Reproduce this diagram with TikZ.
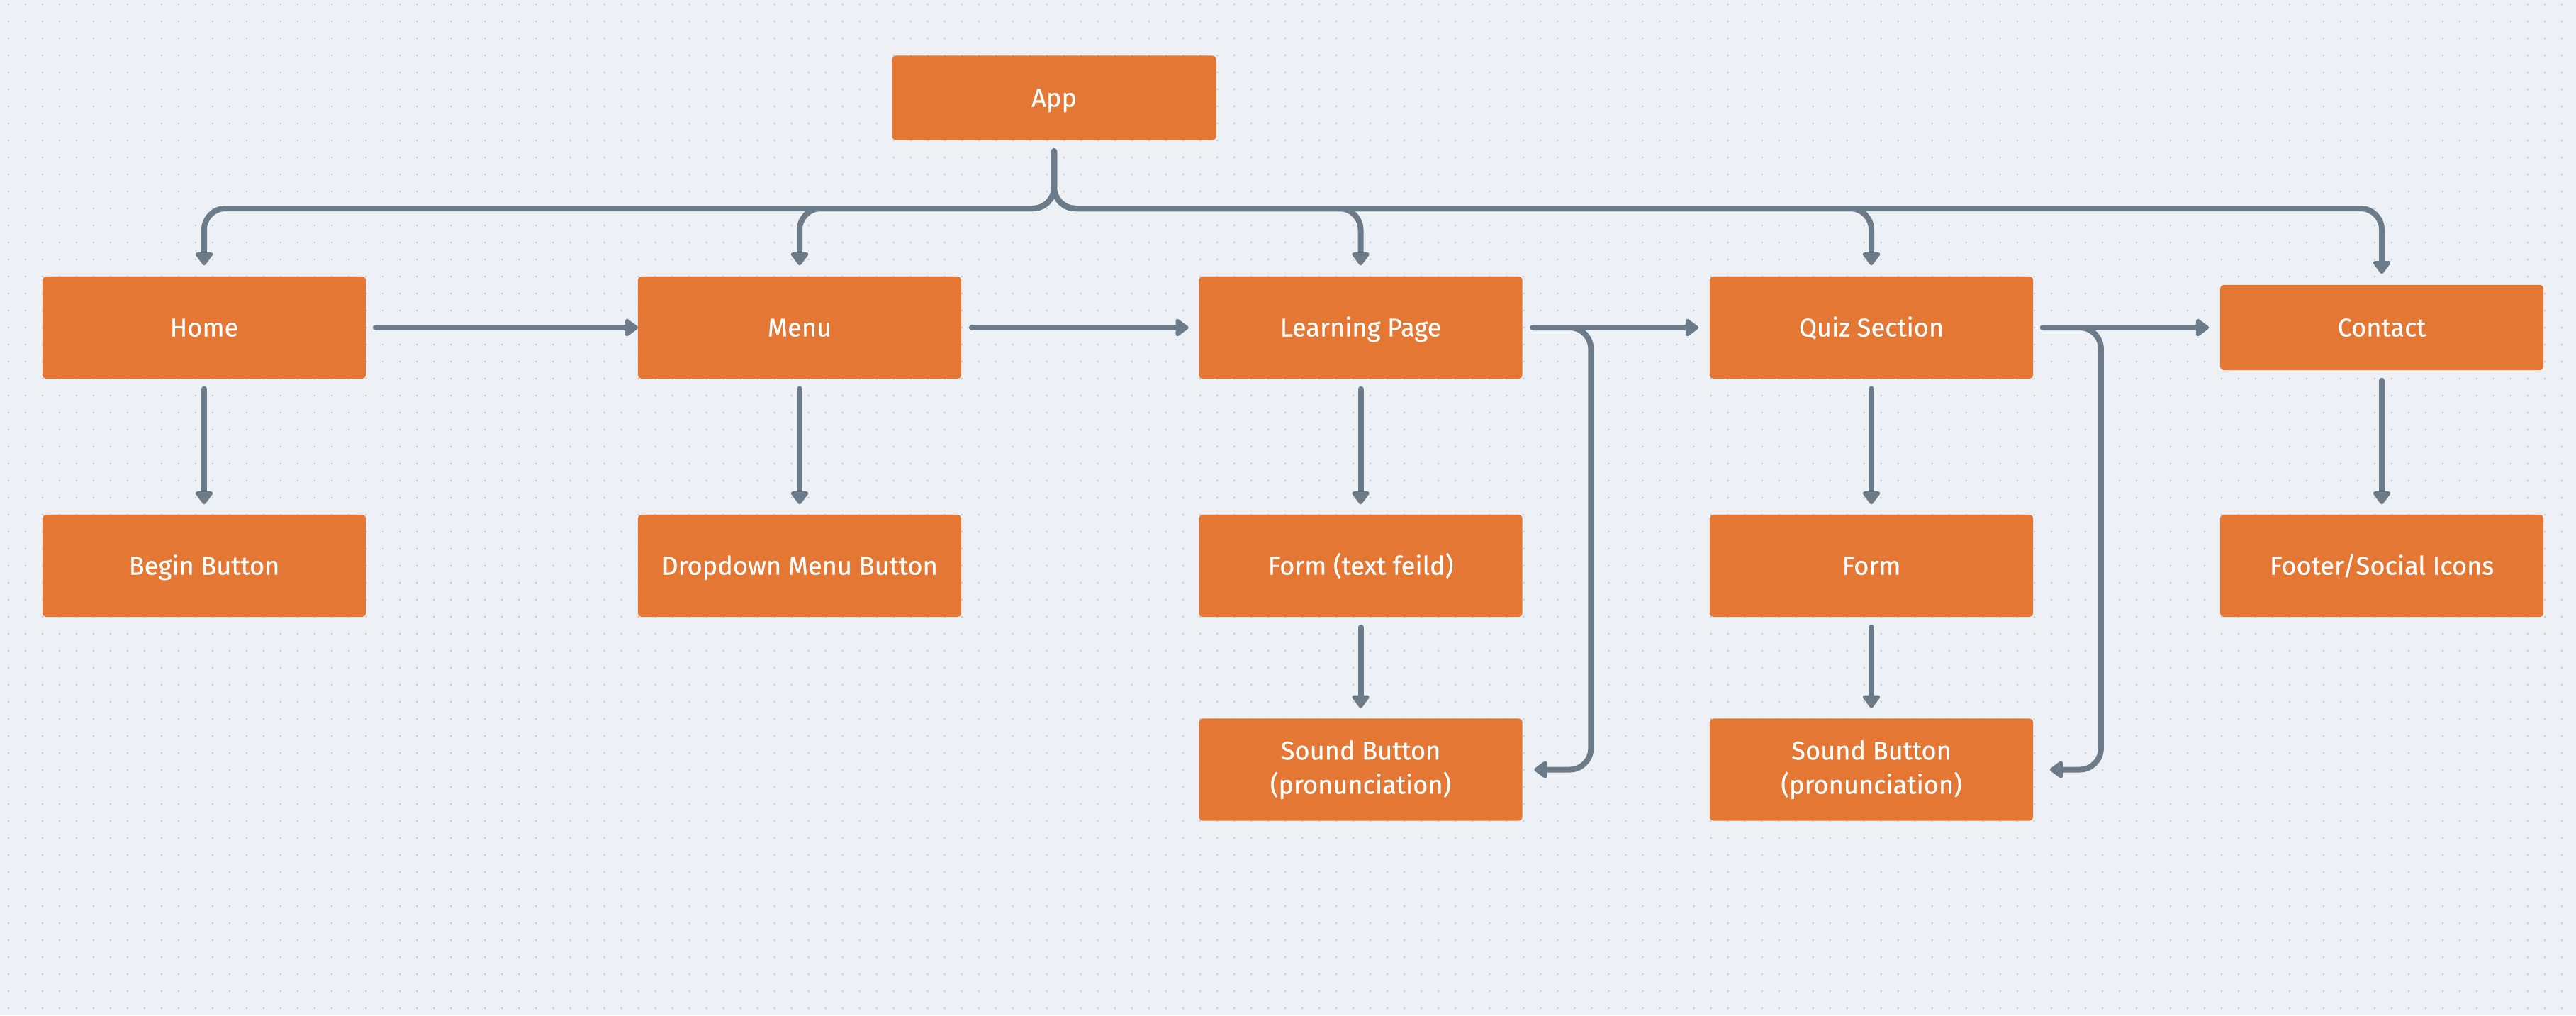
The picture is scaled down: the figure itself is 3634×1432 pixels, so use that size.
\documentclass[tikz,border=0pt]{standalone}
\usepackage{fontspec}
\setmainfont{Fira Sans}
\newfontfamily\boxfont{Fira Sans}[FakeBold=0.5]
\usetikzlibrary{arrows.meta,calc}
\definecolor{bgc}{HTML}{EDF1F6}
\definecolor{dotc}{HTML}{C3CCD6}
\definecolor{boxc}{HTML}{E37733}
\definecolor{linec}{HTML}{6C7B8A}
\tikzset{
  box/.style={rectangle, fill=boxc, rounded corners=0.05cm, minimum width=4.56cm,
    minimum height=1.44cm, inner sep=0pt, text=white, align=center,
    text height=0.25cm, text depth=0cm,
    font=\boxfont\fontsize{10.3}{13.7}\selectfont},
  twoline/.style={text height={}, text depth={}},
  conn/.style={draw=linec, line width=0.08cm, line cap=round, rounded corners=0.3cm,
    -{Triangle[length=0.2cm, width=0.28cm, round]}},
}
\begin{document}
\begin{tikzpicture}[x=0.01cm, y=-0.01cm]
\fill[bgc] (0,0) rectangle (3634,1432);
\useasboundingbox (0,0) rectangle (3634,1432);
\foreach \yy in {6,30,...,1430} {
  \draw[dotc, line width=0.03cm, line cap=round, dash pattern=on 0pt off 0.24cm] (12,\yy) -- (3640,\yy);
}
% nodes
\node[box, minimum height=1.19cm, minimum width=4.57cm] (app) at (1487,138) {App};
\node[box] (home) at (288,462) {Home};
\node[box] (menu) at (1128,462) {Menu};
\node[box] (learn) at (1919.5,462) {Learning Page};
\node[box] (quiz) at (2640,462) {Quiz Section};
\node[box, minimum height=1.2cm] (contact) at (3360,462) {Contact};
\node[box] (begin) at (288,798) {Begin Button};
\node[box] (drop) at (1128,798) {Dropdown Menu Button};
\node[box] (form1) at (1919.5,798) {Form (text feild)};
\node[box] (form2) at (2640,798) {Form};
\node[box] (footer) at (3360,798) {Footer/Social Icons};
\node[box, twoline] (sound1) at (1919.5,1085.5) {Sound Button\\(pronunciation)};
\node[box, twoline] (sound2) at (2640,1085.5) {Sound Button\\(pronunciation)};
\coordinate (bus) at (0,294);
\coordinate (stem) at ($(app.south)+(0,15)$);
% tree from App
\foreach \c in {home,menu,learn,quiz,contact} {
  \draw[conn] (stem) -- (app.south |- bus) -| ($(\c.north)+(0,-15)$);
}
% horizontal flow
\draw[conn] ($(home.east)+(13,0)$) -- ($(menu.west)+(1,0)$);
\draw[conn] ($(menu.east)+(14,0)$) -- ($(learn.west)+(-14,0)$);
\draw[conn] ($(learn.east)+(14,0)$) -- ($(quiz.west)+(-15,0)$);
\draw[conn] ($(quiz.east)+(13,0)$) -- ($(contact.west)+(-15,0)$);
% loops to sound buttons
\draw[conn] ($(learn.east)+(14,0)$) -- ($(learn.east)+(96,0)$) |- ($(sound1.east)+(16,0)$);
\draw[conn] ($(quiz.east)+(13,0)$) -- ($(quiz.east)+(95,0)$) |- ($(sound2.east)+(23,0)$);
% down arrows
\foreach \a/\b in {home/begin,menu/drop,learn/form1,quiz/form2,contact/footer,form1/sound1,form2/sound2} {
  \draw[conn] ($(\a.south)+(0,14)$) -- ($(\b.north)+(0,-14)$);
}
\end{tikzpicture}
\end{document}
